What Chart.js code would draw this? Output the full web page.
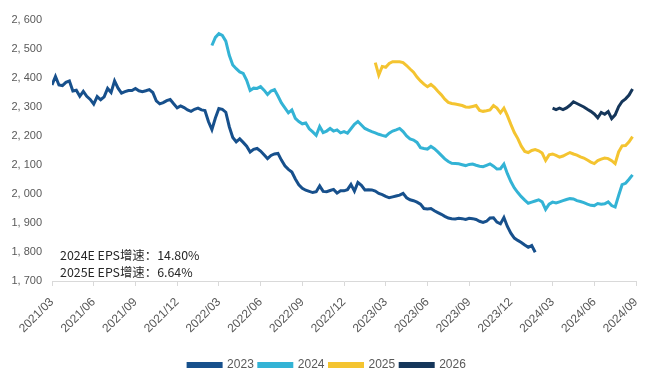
<!DOCTYPE html>
<html>
<head>
<meta charset="utf-8">
<script src="https://cdn.jsdelivr.net/npm/chart.js@4"></script>
<style>
  body { margin: 0; background: #fff; }
  canvas { display: block; }
</style>
</head>
<body>
<canvas id="chart" width="665" height="376"></canvas>
<script>
// x is in months since 2021/03, one point per week (a quarter month)
const tickLabels = ["2021/03", "2021/06", "2021/09", "2021/12", "2022/03", "2022/06", "2022/09",
  "2022/12", "2023/03", "2023/06", "2023/09", "2023/12", "2024/03", "2024/06", "2024/09"];
const seriesNames = ["2023", "2024", "2025", "2026"];
const seriesColors = ["#17508c", "#33b3d5", "#f4c430", "#15365a"];
const step = 0.25;
const seriesStart = [0, 46, 93, 144]; // in weeks

const s2023 = [2376, 2405, 2376, 2374, 2385, 2390, 2355, 2358, 2337, 2354,
  2337, 2326, 2310, 2336, 2325, 2335, 2364, 2350, 2390, 2365,
  2348, 2353, 2357, 2357, 2364, 2356, 2353, 2356, 2360, 2350,
  2321, 2311, 2315, 2322, 2326, 2311, 2297, 2304, 2298, 2290,
  2285, 2292, 2296, 2290, 2288, 2250, 2222, 2262, 2295, 2292,
  2282, 2232, 2195, 2180, 2190, 2178, 2165, 2145, 2154, 2157,
  2148, 2135, 2122, 2133, 2138, 2140, 2117, 2097, 2085, 2076,
  2052, 2032, 2020, 2013, 2009, 2005, 2008, 2028, 2009, 2008,
  2012, 2016, 2003, 2011, 2011, 2015, 2033, 2010, 2040, 2030,
  2014, 2015, 2014, 2010, 2002, 1998, 1992, 1987, 1990, 1993,
  1996, 2002, 1987, 1980, 1977, 1972, 1965, 1950, 1948, 1950,
  1942, 1936, 1930, 1923, 1917, 1915, 1914, 1916, 1915, 1912,
  1916, 1915, 1912, 1906, 1902, 1906, 1917, 1918, 1903, 1897,
  1919, 1888, 1865, 1848, 1840, 1833, 1824, 1816, 1822, 1799];

const s2024 = [2512, 2540, 2553, 2547, 2527, 2478, 2445, 2432, 2421, 2416,
  2392, 2357, 2365, 2364, 2370, 2358, 2343, 2355, 2360, 2338,
  2314, 2297, 2280, 2290, 2261, 2250, 2242, 2245, 2225, 2214,
  2202, 2233, 2212, 2217, 2226, 2217, 2221, 2211, 2215, 2210,
  2225, 2240, 2250, 2238, 2226, 2220, 2215, 2211, 2206, 2202,
  2199, 2210, 2217, 2221, 2226, 2215, 2200, 2190, 2186, 2178,
  2160, 2157, 2155, 2164, 2156, 2145, 2133, 2121, 2112, 2106,
  2105, 2104, 2101, 2098, 2102, 2103, 2099, 2096, 2094, 2099,
  2104, 2096, 2086, 2087, 2103, 2070, 2043, 2021, 2005, 1991,
  1979, 1968, 1972, 1976, 1980, 1973, 1947, 1965, 1972, 1969,
  1973, 1977, 1981, 1984, 1983, 1977, 1974, 1970, 1965, 1961,
  1960, 1967, 1965, 1966, 1973, 1960, 1955, 1995, 2032, 2037,
  2051, 2066];

const s2025 = [2453, 2410, 2440, 2437, 2450, 2456, 2456, 2456, 2453, 2443,
  2431, 2420, 2403, 2390, 2379, 2370, 2378, 2368, 2354, 2342,
  2327, 2316, 2312, 2310, 2308, 2305, 2300, 2299, 2302, 2305,
  2288, 2285, 2287, 2290, 2305, 2296, 2280, 2296, 2270, 2240,
  2212, 2191, 2165, 2147, 2143, 2150, 2153, 2149, 2141, 2116,
  2135, 2138, 2133, 2127, 2131, 2137, 2143, 2138, 2134, 2128,
  2124, 2117, 2110, 2105, 2115, 2120, 2124, 2122, 2115, 2105,
  2145, 2166, 2167, 2180, 2198];

const s2026 = [2296, 2291, 2296, 2291, 2297, 2306, 2318, 2312, 2306, 2300,
  2292, 2285, 2276, 2263, 2281, 2275, 2284, 2260, 2273, 2301,
  2319, 2328, 2341, 2362];

const notes = ["2024E EPS增速：14.80%", "2025E EPS增速：6.64%"];

const allSeries = [s2023, s2024, s2025, s2026];

const datasets = allSeries.map((vals, i) => ({
  label: seriesNames[i],
  data: vals.map((v, k) => ({ x: (seriesStart[i] + k) * step, y: v })),
  borderColor: seriesColors[i],
  backgroundColor: seriesColors[i],
  borderWidth: 3,
  pointRadius: 0,
  tension: 0,
}));

// nudge the legend down/right a bit to sit where the original has it
const legendShift = {
  id: "legendShift",
  afterLayout(chart) {
    const l = chart.legend;
    l.top += 7; l.bottom += 7;
    l.left += 9; l.right += 9;
  }
};

const notePlugin = {
  id: "notes",
  afterDraw(chart) {
    const ctx = chart.ctx;
    ctx.save();
    ctx.font = "12.4px 'Noto Sans CJK SC'";
    ctx.fillStyle = "#262626";
    ctx.textAlign = "left";
    ctx.textBaseline = "middle";
    ctx.fillText(notes[0], 60, 255);
    ctx.fillText(notes[1], 60, 272);
    ctx.restore();
  }
};

const axisFont = { family: "'Liberation Sans', Arial, sans-serif", size: 11 };

new Chart(document.getElementById("chart"), {
  type: "line",
  data: { datasets },
  plugins: [legendShift, notePlugin],
  options: {
    responsive: false,
    animation: false,
    layout: { padding: { top: 20, right: 29, bottom: 2, left: 0 } },
    plugins: {
      tooltip: { enabled: false },
      legend: {
        position: "bottom",
        labels: {
          boxWidth: 33,
          boxHeight: 3,
          padding: 5,
          color: "#595959",
          font: { family: "'Liberation Sans', Arial, sans-serif", size: 12 },
        },
      },
    },
    scales: {
      x: {
        type: "linear",
        min: 0,
        max: 42,
        afterFit: (s) => { s.height = 66; },
        ticks: {
          stepSize: 3,
          autoSkip: false,
          minRotation: 45,
          maxRotation: 45,
          padding: 9,
          color: "#595959",
          font: { family: "'Liberation Sans', Arial, sans-serif", size: 12 },
          callback: (v) => tickLabels[v / 3],
        },
        grid: { drawOnChartArea: false, drawTicks: true, tickLength: 5, color: "#d9d9d9" },
        border: { color: "#d9d9d9" },
      },
      y: {
        min: 1700,
        max: 2600,
        afterFit: (s) => { s.width = 52; },
        ticks: {
          stepSize: 100,
          padding: 10,
          color: "#595959",
          font: axisFont,
          callback: (v) => Math.floor(v / 1000) + ", " + String(v % 1000).padStart(3, "0"),
        },
        grid: { display: false, drawTicks: false },
        border: { display: false },
      },
    },
  },
});
</script>
</body>
</html>
